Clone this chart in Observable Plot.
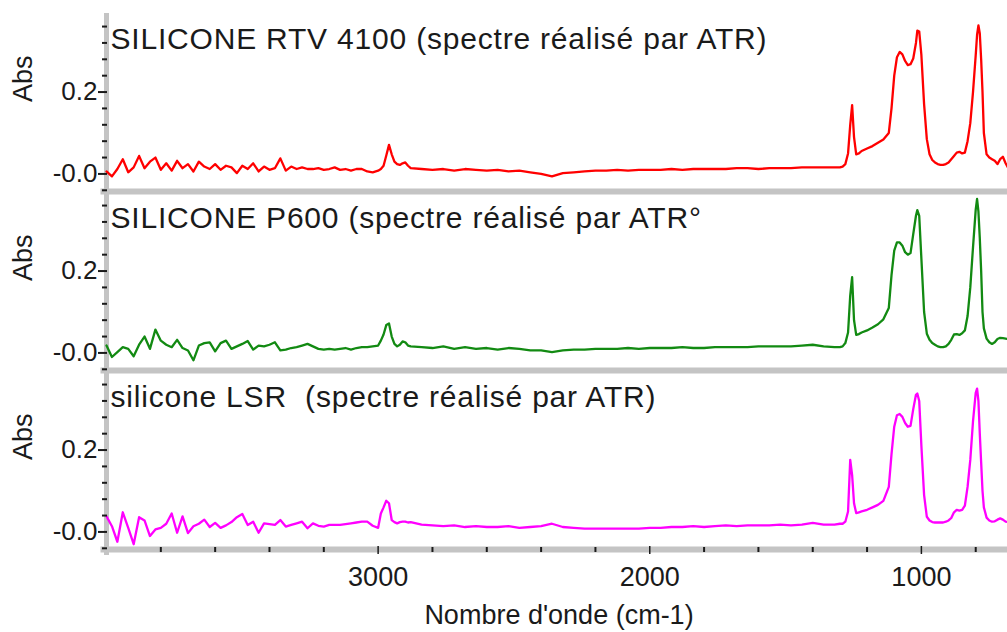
<!DOCTYPE html>
<html><head><meta charset="utf-8">
<script src="https://cdn.jsdelivr.net/npm/d3@7"></script>
<script src="https://cdn.jsdelivr.net/npm/@observablehq/plot@0.6"></script>
<style>body{margin:0;background:#fff;} svg{display:block;}</style>
</head><body><div id="chart"></div>
<script>
// Wavenumbers (cm-1) shared by the three spectra
const wavenumbers = [
  4000,3980,3960,3940,3920,3900,3880,3860,3840,3820,3800,3780,3760,3740,3720,3700,3680,3660,3640,3620,
  3600,3580,3560,3540,3520,3500,3480,3460,3440,3420,3400,3380,3360,3340,3320,3300,3280,3260,3240,3220,
  3200,3180,3160,3140,3120,3100,3080,3060,3040,3020,
  3000,2990,2980,2970,2960,2950,2940,2930,2920,2910,2900,2890,2880,
  2840,2800,2760,2720,2680,2640,2600,2560,2520,2480,2440,2400,2360,2320,2280,2240,2200,2160,2120,2080,
  2040,2000,1960,1920,1880,1840,1800,1760,1720,1680,1640,1600,1560,1520,1480,1440,1400,1360,1320,
  1300,1290,1280,1270,1262,1255,1248,1240,1230,1220,1200,1180,1160,1140,1120,
  1110,1100,1090,1080,1070,1060,1050,1040,1030,1020,1015,1008,
  1000,990,980,970,960,950,940,930,920,910,900,890,880,870,860,850,840,830,820,810,800,
  795,790,785,780,775,770,760,750,740,730,720,710,700,690,680
];
const rtv4100 = [
  .006,-.006,.012,.036,.004,.016,.044,.014,.030,.040, .010,.026,.008,.032,.014,.024,.006,.030,.018,.012,
  .024,.010,.020,.016,.002,.020,.012,.026,.006,.018, .010,.014,.038,.008,.018,.012,.016,.012,.012,.014,
  .010,.012,.016,.010,.012,.008,.012,.012,.006,.004,
  .008,.012,.020,.045,.071,.048,.030,.024,.022,.026,.028,.020,.014,
  .012,.010,.012,.008,.012,.010,.008,.010,.006,.008, .004,.000,-.006,.002,.004,.006,.008,.008,.010,.008,
  .010,.010,.010,.012,.010,.012,.012,.012,.012,.014, .014,.012,.014,.014,.014,.016,.016,.016,.016,
  .016,.018,.024,.050,.120,.168,.090,.048,.050,.056,.062,.068,.076,.084,.100,
  .160,.240,.285,.298,.292,.276,.266,.268,.282,.320,.350,.348,
  .290,.170,.085,.048,.034,.028,.024,.022,.022,.024,.028,.036,.044,.052,.054,.050,.052,.080,.124,.200,.290,
  .340,.363,.343,.280,.200,.100,.048,.040,.036,.032,.024,.036,.042,.026,.014
];
const p600 = [
  .018,-.010,.002,.014,.010,-.008,.020,.040,.010,.057, .030,.020,.014,.032,.012,.006,-.018,.018,.024,.026,
  .004,.024,.030,.010,.016,.022,.029,.008,.018,.016, .020,.026,.006,.008,.012,.014,.018,.022,.016,.010,
  .008,.010,.008,.010,.012,.008,.012,.014,.014,.016,
  .018,.030,.045,.068,.072,.040,.022,.016,.020,.028,.026,.018,.016,
  .014,.012,.016,.010,.014,.010,.012,.008,.012,.010, .006,.006,.002,.006,.008,.008,.010,.010,.010,.012,
  .010,.012,.012,.012,.014,.012,.012,.014,.014,.014, .014,.016,.016,.016,.016,.018,.020,.016,.014,
  .014,.016,.024,.050,.140,.185,.080,.044,.046,.050,.055,.062,.070,.082,.110,
  .190,.250,.270,.270,.262,.246,.240,.244,.290,.335,.349,.335,
  .230,.100,.047,.032,.024,.020,.016,.014,.014,.016,.022,.032,.045,.046,.044,.048,.055,.090,.160,.258,.350,
  .376,.345,.280,.200,.100,.060,.035,.026,.022,.026,.034,.037,.036,.035,.034
];
const lsr = [
  .038,.014,-.024,.048,.010,-.030,.036,.028,-.010,.006, .010,.020,.045,-.002,.038,-.003,.014,.020,.030,.012,
  .022,.010,.016,.024,.036,.044,.017,.025,-.002,.021, .019,.017,.029,.013,.017,.021,.025,.009,.021,.015,
  .013,.017,.017,.017,.019,.021,.023,.025,.025,.015,
  .010,.045,.060,.076,.070,.029,.024,.021,.024,.025,.025,.023,.024,
  .018,.016,.014,.016,.012,.014,.012,.012,.014,.010, .012,.014,.020,.012,.010,.008,.008,.008,.008,.008,
  .008,.010,.010,.012,.012,.014,.012,.014,.016,.014, .016,.016,.016,.018,.016,.018,.022,.018,.018,
  .020,.020,.025,.050,.176,.139,.070,.046,.048,.050,.054,.060,.066,.076,.110,
  .190,.257,.285,.288,.281,.266,.257,.259,.300,.335,.338,.320,
  .210,.090,.037,.028,.024,.023,.023,.023,.023,.025,.028,.034,.048,.054,.052,.054,.064,.110,.176,.270,.340,
  .350,.320,.240,.170,.100,.060,.035,.028,.025,.026,.030,.033,.030,.025,.024
];
const panels = ["RTV 4100", "P600", "LSR"];
const titles = [
  "SILICONE RTV 4100 (spectre réalisé par ATR)",
  "SILICONE P600 (spectre réalisé par ATR°",
  "silicone LSR \u00a0(spectre réalisé par ATR)"
];
const colors = ["#ff0000", "#128a12", "#ff00ff"];
const yMajorTicks = [0, 0.2];
const yMinorTicks = [-0.04, 0.04, 0.08, 0.12, 0.16, 0.24, 0.28, 0.32, 0.36];
const xMajorTicks = [3000, 2000, 1000];
const xMinorTicks = [3800, 3600, 3400, 3200, 2800, 2600, 2400, 2200, 1800, 1600, 1400, 1200, 800];
const xLabel = "Nombre d'onde (cm-1)";
const yLabel = "Abs";

const series = [rtv4100, p600, lsr];
const rows = [];
panels.forEach((p, i) => series[i].forEach((v, j) => rows.push({panel: p, wn: wavenumbers[j], abs: v})));
const titleRows = panels.map((p, i) => ({panel: p, title: titles[i]}));

const gray = "#c4c4c4";
const ink = "#1a1a1a";

const chart = Plot.plot({
  width: 1007, height: 632,
  marginLeft: 106, marginRight: 0, marginTop: 15, marginBottom: 85,
  style: {fontFamily: "'Liberation Sans', Arial, sans-serif", background: "#fff"},
  x: {domain: [4000, 683]},
  y: {domain: [-0.0356, 0.387]},
  fy: {domain: panels, axis: null, paddingInner: 0.0335, paddingOuter: 0},
  color: {domain: panels, range: colors},
  marks: [
    Plot.frame({anchor: "left", stroke: gray, strokeWidth: 5, insetBottom: -6}),
    Plot.frame({anchor: "bottom", stroke: gray, strokeWidth: 6, insetBottom: -3, insetLeft: -3}),
    Plot.line(rows, {x: "wn", y: "abs", fy: "panel", stroke: "panel", strokeWidth: 2.3, strokeLinejoin: "round"}),
    Plot.axisY({ticks: yMinorTicks, tickSize: 5, tickFormat: () => "", label: null, dx: 1, strokeWidth: 2, stroke: ink}),
    Plot.axisY({ticks: yMajorTicks, tickSize: 9, tickPadding: 1, dx: 1, label: null, strokeWidth: 2,
      tickFormat: d => d === 0 ? "-0.0" : d3.format(".1f")(d), fontSize: 26, color: ink}),
    Plot.axisX({ticks: xMinorTicks, tickSize: 5, tickFormat: () => "", label: null, dy: 1, strokeWidth: 2, stroke: ink}),
    Plot.axisX({ticks: xMajorTicks, tickSize: 8, tickPadding: 12, label: null, strokeWidth: 1.5,
      tickFormat: d => String(d), fontSize: 27, color: ink}),
    Plot.text([yLabel], {frameAnchor: "left", text: d => d, rotate: -90, dx: -83, fontSize: 27, fill: ink}),
    Plot.text(titleRows, {fy: "panel", frameAnchor: "top-left", text: "title", dx: 4, dy: 12,
      lineAnchor: "top", textAnchor: "start", fontSize: 30, fill: ink}),
    Plot.text([{panel: "LSR"}], {fy: "panel", frameAnchor: "bottom", text: () => xLabel,
      lineAnchor: "top", dy: 58, dx: 2, fontSize: 27, fill: ink})
  ]
});
d3.select(chart).selectAll("text")
  .filter(function() { return titles.includes(this.textContent); })
  .style("letter-spacing", "0.8px");
document.getElementById("chart").appendChild(chart);
</script>
</body></html>
